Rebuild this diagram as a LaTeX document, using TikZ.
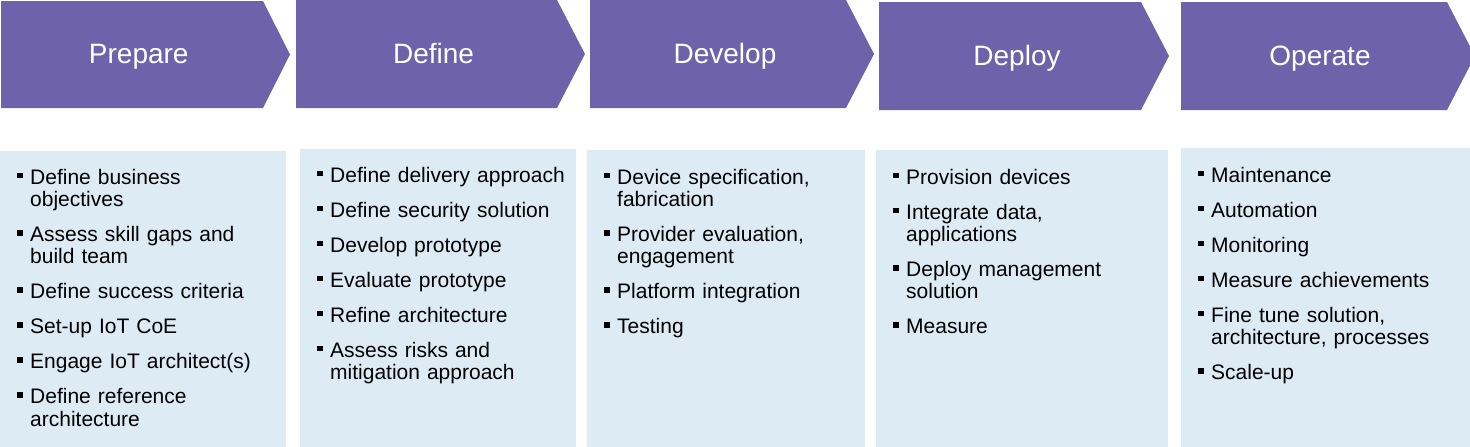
\documentclass[tikz,border=0pt]{standalone}
\usepackage{fontspec}
\setmainfont{Liberation Sans}
\definecolor{chev}{HTML}{6E63AA}
\definecolor{pane}{HTML}{DDEBF5}
\newcommand\bulmark{\makebox[13pt][l]{\rule[6pt]{5.5pt}{5.5pt}}}
\newcommand\itm[1]{\hangindent=13pt\hangafter=1\noindent\strut\bulmark#1\par}
\newcommand\lstart{\setlength{\parskip}{12.7pt}\setlength{\parindent}{0pt}}
\newcommand\nl{\newline}
\begin{document}
\begin{tikzpicture}[x=1pt,y=-1pt,
  chevfill/.style={fill=chev, draw=none},
  panefill/.style={fill=pane, draw=none},
  headtext/.style={text=white, font=\fontsize{28}{32}\selectfont, anchor=base, inner sep=0pt},
  listtext/.style={anchor=north west, inner sep=0pt, text width=265pt, align=left,
    font=\fontsize{21}{22.3}\selectfont}]
\useasboundingbox (0,0) rectangle (1470,447);
% chevrons
\fill[chevfill] (1,1) -- (263,1) -- (290,54.5) -- (263,108) -- (1,108) -- cycle;
\fill[chevfill] (296,0) -- (557,0) -- (585,54) -- (557,108) -- (296,108) -- cycle;
\fill[chevfill] (590,0) -- (846,0) -- (874,54) -- (846,108) -- (590,108) -- cycle;
\fill[chevfill] (879,2) -- (1141,2) -- (1169,56) -- (1141,110) -- (879,110) -- cycle;
\fill[chevfill] (1181,2) -- (1447,2) -- (1475,56) -- (1447,110) -- (1181,110) -- cycle;
\node[headtext] (h1) at (138.75,63) {Prepare};
\node[headtext] (h2) at (433.5,63) {Define};
\node[headtext] (h3) at (725,63) {Develop};
\node[headtext] (h4) at (1017,65) {Deploy};
\node[headtext] (h5) at (1320,65) {Operate};
% panes
\fill[panefill] (0,151) rectangle (286,447);
\fill[panefill] (300,149) rectangle (576,447);
\fill[panefill] (587,150) rectangle (865,447);
\fill[panefill] (876,150) rectangle (1168,447);
\fill[panefill] (1181,148) rectangle (1470,447);
\node[listtext] (l1) at (17,168.4) {\lstart
  \itm{Define business\nl objectives}
  \itm{Assess skill gaps and\nl build team}
  \itm{Define success criteria}
  \itm{Set-up IoT CoE}
  \itm{Engage IoT architect(s)}
  \itm{Define reference\nl architecture}};
\node[listtext] (l2) at (317,166.4) {\lstart
  \itm{Define delivery approach}
  \itm{Define security solution}
  \itm{Develop prototype}
  \itm{Evaluate prototype}
  \itm{Refine architecture}
  \itm{Assess risks and\nl mitigation approach}};
\node[listtext] (l3) at (604,168.4) {\lstart
  \itm{Device specification,\nl fabrication}
  \itm{Provider evaluation,\nl engagement}
  \itm{Platform integration}
  \itm{Testing}};
\node[listtext] (l4) at (893,168.4) {\lstart
  \itm{Provision devices}
  \itm{Integrate data,\nl applications}
  \itm{Deploy management\nl solution}
  \itm{Measure}};
\node[listtext] (l5) at (1198,166.4) {\lstart
  \itm{Maintenance}
  \itm{Automation}
  \itm{Monitoring}
  \itm{Measure achievements}
  \itm{Fine tune solution,\nl architecture, processes}
  \itm{Scale-up}};
\end{tikzpicture}
\end{document}
